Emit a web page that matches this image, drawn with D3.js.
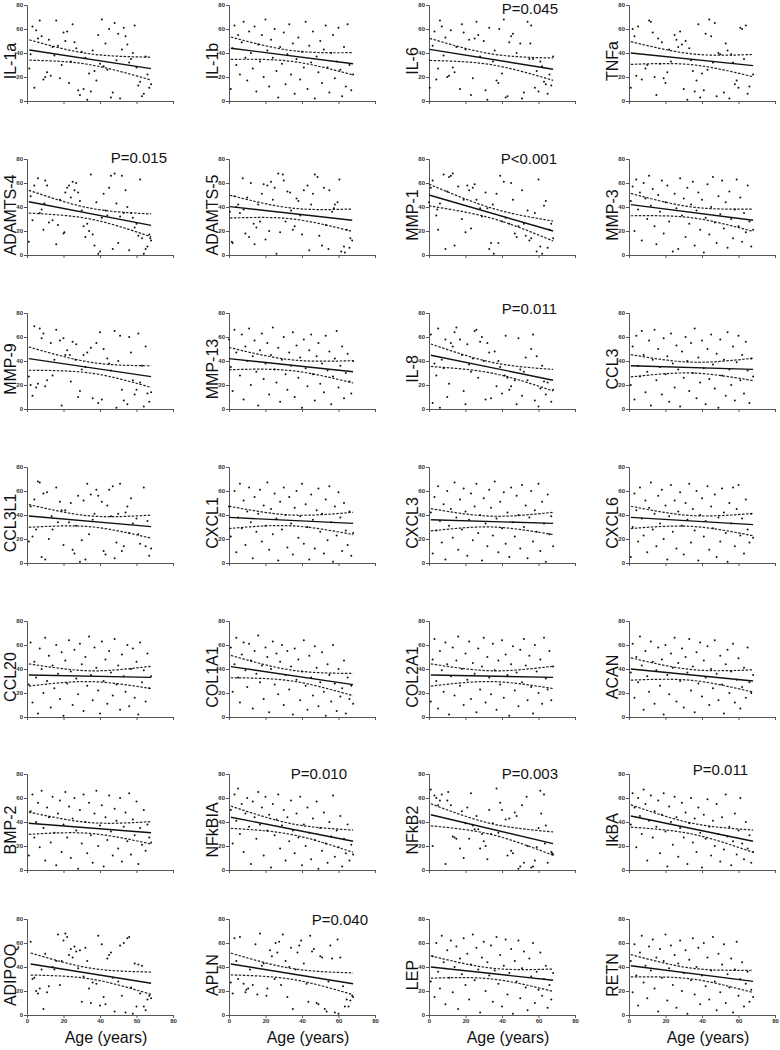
<!DOCTYPE html>
<html><head><meta charset="utf-8">
<script src="https://cdn.jsdelivr.net/npm/d3@7"></script>
<style>body{margin:0;background:#fff}</style>
</head><body><svg id="c" width="780" height="1050"></svg>
<script>
const markers = ["IL-1a","IL-1b","IL-6","TNFa","ADAMTS-4","ADAMTS-5","MMP-1","MMP-3","MMP-9","MMP-13","IL-8","CCL3","CCL3L1","CXCL1","CXCL3","CXCL6","CCL20","COL1A1","COL2A1","ACAN","BMP-2","NFkBIA","NFkB2","IkBA","ADIPOQ","APLN","LEP","RETN"];
const pLabels = [null,null,"P=0.045",null,"P=0.015",null,"P<0.001",null,null,null,"P=0.011",null,null,null,null,null,null,null,null,null,null,"P=0.010","P=0.003","P=0.011",null,"P=0.040",null,null];
const fitStart = [42.5,44,43,40,44.4,40.3,50,42,42,42,44.8,36,39.2,38,36,38,35,42,35,40,39,44,46,45,42.5,42.5,40,41];
const fitEnd   = [27,31,26.5,29.5,24.7,29,20,29,27,31,24,33,30.3,33,33,32,33,27,33,30,31,24,22,24,26.5,26,29,28];
const bandStart = [8.5,9.3,9.2,9.5,9.5,9.5,9,9.3,9.7,9.3,9.4,9.3,9.5,9.3,9.3,9.3,9.3,9.3,9.3,9.3,9.3,9.3,9.2,9.3,9.2,9.1,9.3,9.3];
const bandMid   = [4.5,4.5,4.5,4.5,4.5,4.5,4.2,4.5,4.5,4.5,4.5,4.5,4.5,4.5,4.5,4.5,4.5,4.5,4.5,4.5,4.5,4.5,4.5,4.5,4.5,4.5,4.5,4.5];
const bandEnd   = [9.5,9.3,9.3,9.3,9.5,9.3,8.3,9.3,9,9.3,9,9.3,9.6,9.3,9.3,9.3,9.3,9.3,9.3,9.3,9.3,9.3,9.7,9.3,9.3,9.1,9.3,9.3];
const xTicks = [0,20,40,60,80];
const yTicks = [0,20,40,60,80];

const pts_IL1a = [[1.3,27],[2,39],[3,62],[4,11],[5,59],[6,52],[7,67],[8,54],[9,18],[10,20],[11,24],[12,51],[13,21],[14,45],[15,38],[16,67],[17,46],[18,19],[19,30],[20,57],[21,50],[22,58],[23,15],[24,33],[25,64],[26,49],[27,44],[28,9],[29,5],[30,41],[31,10],[32,36],[33,1],[34,23],[35,8],[36,42],[37,25],[38,17],[39,55],[40,31],[41,68],[42,29],[43,48],[44,26],[45,60],[46,3],[47,7],[48,65],[49,34],[50,56],[51,2],[52,43],[53,61],[54,54],[55,47],[56,32],[57,35],[58,40],[59,63],[60,28],[61,13],[62,16],[63,4],[64,6],[65,37],[66,22],[67,11],[68,14]];
const pts_IL1b = [[1,10],[2,44],[3,63],[4,30],[5,55],[6,22],[7,49],[8,66],[9,36],[10,17],[11,58],[12,40],[13,27],[14,62],[15,8],[16,47],[17,33],[18,55],[19,20],[20,68],[21,42],[22,12],[23,51],[24,36],[25,60],[26,25],[27,3],[28,45],[29,31],[30,57],[31,14],[32,39],[33,64],[34,22],[35,48],[36,6],[37,35],[38,53],[39,18],[40,41],[41,28],[42,66],[43,10],[44,46],[45,32],[46,58],[47,2],[48,37],[49,24],[50,50],[51,15],[52,43],[53,63],[54,28],[55,7],[56,40],[57,55],[58,19],[59,33],[60,61],[61,26],[62,4],[63,45],[64,12],[65,64],[66,30],[67,9],[68,22]];
const pts_IL6 = [[0.4,11],[2,46],[3,58],[4,18],[5,27],[6,67],[7,62],[8,38],[9,53],[10,20],[11,21],[12,59],[13,28],[14,24],[15,45],[17,10],[18,64],[19,57],[20,43],[22,51],[23,5],[24,19],[25,52],[26,66],[27,55],[28,37],[30,50],[31,9],[32,1],[33,61],[35,33],[36,42],[37,17],[38,15],[38.5,60],[40,23],[41,68],[42,3],[43,4],[44,49],[45,54],[46,56],[48,40],[50,48],[51,2],[52,7],[54,66],[55,35],[55.5,48],[56,63],[57,35],[58,11],[59,25],[60,8],[61,33],[62,29],[63,16],[64,14],[65,6],[66,22],[67,13],[68,37]];
const pts_TNFa = [[1,11],[2,60],[3,54],[4,21],[5,62],[7,18],[9,27],[10,30],[11,67],[12,66],[13,57],[14,20],[15,5],[16,52],[17,31],[18,49],[19,19],[20,15],[21,24],[22,43],[23,33],[25,55],[26,51],[27,45],[28,58],[29,47],[30,10],[31,50],[32,1],[33,44],[34,34],[35,25],[36,8],[37,17],[38,64],[39,3],[40,23],[41,9],[42,56],[43,26],[44,68],[45,54],[46,32],[47,65],[48,4],[49,40],[50,39],[52,7],[53,48],[54,42],[55,2],[56,39],[57,32],[58,14],[59,17],[60,11],[61,61],[62,60],[63,35],[64,63],[65,6],[66,12],[68,22]];
const pts_ADAMTS4 = [[1,11],[2,49],[3,29],[4,58],[6,64],[7,35],[8,38],[9,21],[9.5,43],[10,62],[11,58],[12,27],[14,29],[16,9],[17,25],[18,46],[20,18],[20.5,19],[21,52],[22,56],[23,58],[24,48],[25,61],[26,54],[27,60],[28,52],[29,45],[30,37],[31,24],[32,15],[33,26],[34,20],[35,67],[36,17],[37,8],[38,44],[39,1],[40,3],[41,31],[42,51],[43,37],[44,33],[45,56],[46,66],[47,5],[48,68],[49,43],[50,10],[51,32],[52,66],[53,35],[54,54],[55,40],[56,4],[57,35],[58,31],[59,23],[60,26],[61,16],[62,63],[63,14],[64,1],[65,5],[66,7],[67,17],[67.5,14],[68,12]];
const pts_ADAMTS5 = [[0.5,36],[1.5,11],[2,10],[3,49],[4,40],[5,42],[6,35],[7.5,64],[8,38],[9,18],[10,48],[11,15],[12,60],[13.5,26],[14,9],[15,23],[16,42],[17,28],[18,51],[19,59],[20,13],[21,58],[22,20],[23,61],[24,46],[25,56],[26,1],[27,68],[28,19],[29.5,67],[30,62],[31,28],[32,53],[33.5,52],[34,37],[35,21],[36,24],[37,47],[38,45],[39,33],[40,17],[41,54],[43,58],[44,4],[45,42],[46,51],[47,67],[48.5,65],[49.5,16],[51,8],[52,56],[53,25],[54.5,5],[55,54],[56.5,36],[57.5,39],[58,42],[59.5,44],[60.5,63],[61.5,3],[63,7],[63.5,2],[64.5,21],[66,6],[66.5,14],[67.5,12]];
const pts_MMP1 = [[0,44],[1,56],[2,62],[4,33],[4.5,38],[5,21],[6,43],[8,67],[9,5],[10,53],[11,65],[12,66],[13,68],[14,8],[16,57],[18,30],[19,46],[20,19],[21,58],[22,54],[23,22],[24,56],[25,59],[26,46],[28,39],[29,32],[31,52],[32,39],[33,5],[34,10],[35,42],[35.5,1],[37,51],[38,10],[39,66],[40,28],[41,61],[42,31],[44,26],[45,60],[46,46],[47,18],[48,15],[49,24],[51,54],[52,26],[53,16],[54,37],[55,12],[56,14],[58,35],[59,3],[60,63],[61,7],[62,1],[63,41],[64,45],[65,6],[66,21],[67,26],[68,14]];
const pts_MMP3 = [[1,45],[2,57],[3,20],[4,63],[5,38],[6,52],[7,12],[8,60],[9,47],[10,30],[11,66],[12,41],[13,55],[14,24],[15,9],[16,50],[17,36],[18,62],[19,18],[20,44],[21,58],[22,28],[24,3],[25,51],[26,39],[27,5],[28,64],[29,33],[30,47],[31,15],[32,56],[33,26],[34,42],[35,61],[36,8],[37,37],[38,52],[39,21],[40,46],[41,2],[42,31],[43,59],[44,17],[45,40],[46,65],[47,27],[48,10],[49,49],[50,34],[51,62],[52,22],[53,44],[54,6],[55,53],[56,30],[57,14],[58,38],[59,63],[60,24],[61,48],[62,11],[63,35],[64,19],[65,58],[66,28],[67,7],[68,21]];
const pts_MMP9 = [[1,27],[2,20],[3,11],[4,69],[5,18],[6,21],[7,67],[8,59],[9,63],[10,19],[11,24],[13,55],[14,28],[15,41],[16,66],[18,57],[19,3],[20,59],[21,45],[22,49],[23.5,45],[24,23],[25,56],[26.5,41],[27,54],[28,10],[29,15],[30,33],[31,45],[32,35],[33,47],[35,51],[36,9],[38,55],[39,5],[40,64],[41,8],[42,50],[44,42],[45,38],[46,32],[48,65],[49,1],[50,40],[51,61],[52,16],[53,7],[55,4],[56,60],[57,47],[58,24],[59,12],[60,16],[61,63],[62,22],[63,36],[64,2],[65,52],[66,13],[67,6],[68,14]];
const pts_MMP13 = [[0,58],[1,35],[2,15],[3,66],[4,47],[6,28],[7,62],[8,8],[9,52],[10,40],[11,67],[12,20],[13,44],[14,57],[15,31],[16,3],[17,49],[18,63],[19,25],[20,38],[21,55],[22,12],[23,45],[24,68],[25,33],[26,22],[27,51],[28,6],[29,41],[30,60],[31,29],[32,16],[33,47],[34,36],[35,64],[36,10],[37,53],[38,26],[39,43],[40,1],[41,58],[42,34],[43,19],[44,49],[45,62],[46,29],[47,7],[48,44],[49,55],[50,21],[51,38],[52,14],[53,61],[54,32],[55,48],[56,4],[57,27],[58,42],[59,65],[60,18],[61,36],[62,52],[63,9],[64,30],[65,46],[66,23],[67,13],[68,40]];
const pts_IL8 = [[1,62],[2,5],[3,38],[4,28],[5,67],[6,1],[7,41],[8,34],[9,58],[10,10],[11,21],[12,55],[13,52],[14,64],[15,68],[17,58],[18,45],[19,15],[20,4],[21,54],[22,37],[23,31],[24,42],[25,65],[26,66],[27,26],[28,56],[29,60],[30,40],[31,8],[32,55],[33,47],[34,9],[36,48],[37,19],[38,40],[39,35],[40,13],[41.5,28],[42,61],[43,26],[44,16],[45,19],[47,24],[48,4],[49,59],[50,33],[51,11],[52,31],[53,43],[54,24],[56,50],[57,62],[58,7],[59,44],[60,2],[61,17],[62,36],[63,23],[64,12],[65,22],[67,6],[68,16]];
const pts_CCL3 = [[1,20],[2,52],[3,8],[4,61],[5,36],[6,27],[7,65],[8,45],[9,14],[10,31],[11,57],[12,3],[13,41],[14,66],[15,24],[16,50],[17,35],[18,12],[19,59],[20,29],[21,44],[22,6],[23,63],[24,38],[25,18],[26,53],[27,33],[28,2],[29,48],[30,26],[31,60],[32,40],[33,15],[34,55],[35,30],[36,67],[37,9],[38,43],[39,22],[40,57],[41,34],[42,4],[43,50],[44,25],[45,62],[46,37],[47,17],[48,46],[49,1],[50,58],[51,28],[52,41],[53,11],[54,64],[55,33],[56,20],[57,52],[58,7],[59,39],[60,61],[61,24],[62,45],[63,13],[64,56],[65,32],[66,5],[67,42],[68,27]];
const pts_CCL3L1 = [[1,18],[2,47],[3,22],[4,53],[5,28],[6,68],[7,67],[8,5],[9,58],[10,3],[11,59],[12,20],[13.5,39],[14,28],[16,63],[17,34],[18,51],[19,44],[20,15],[21,44],[23,34],[24,50],[25,11],[26,8],[27,31],[28,56],[29,1],[30,19],[31,52],[32,3],[33,66],[34,24],[35,57],[36,36],[37,41],[38,61],[39,56],[41,51],[42,10],[43,7],[44,48],[45,61],[46,39],[47,64],[48,4],[49,17],[50,41],[51,66],[52,10],[53,14],[54,42],[55,47],[56,25],[57,54],[58,33],[60,37],[61,24],[62,16],[64,63],[65,14],[66,35],[67,6],[68,12]];
const pts_CXCL1 = [[0,47],[1,22],[3,60],[4,9],[5,38],[6,66],[7,29],[8,52],[9,15],[10,43],[11,63],[12,34],[13,4],[14,55],[15,26],[16,41],[17,61],[18,18],[19,48],[20,31],[21,67],[22,11],[23,45],[24,24],[25,58],[26,37],[27,2],[28,51],[29,28],[30,63],[31,40],[32,13],[33,55],[34,33],[35,7],[36,46],[37,60],[38,21],[39,39],[40,66],[41,16],[42,49],[43,30],[44,3],[45,57],[46,36],[47,12],[48,44],[49,62],[50,26],[51,41],[52,8],[53,53],[54,19],[55,64],[56,34],[57,1],[58,47],[59,23],[60,59],[61,38],[62,10],[63,50],[64,27],[65,15],[66,43],[67,6],[68,25]];
const pts_CXCL3 = [[1,42],[2,8],[3,55],[4,27],[5,64],[6,35],[7,17],[8,49],[9,3],[10,60],[11,31],[12,45],[13,21],[14,67],[15,38],[16,11],[17,53],[18,28],[19,62],[20,43],[21,6],[22,36],[23,58],[24,19],[25,47],[26,66],[27,25],[28,40],[29,2],[30,54],[31,33],[32,14],[33,61],[34,46],[35,23],[36,68],[37,37],[38,9],[39,51],[40,29],[41,59],[42,16],[43,42],[44,5],[45,63],[46,34],[47,22],[48,56],[49,40],[50,12],[51,65],[52,30],[53,48],[54,4],[55,38],[56,60],[57,18],[58,44],[59,26],[60,66],[61,10],[62,51],[63,33],[64,1],[65,57],[66,24],[67,39],[68,14]];
const pts_CXCL6 = [[1,5],[2,30],[3,58],[4,44],[5,18],[6,63],[7,37],[8,23],[9,52],[10,9],[11,46],[12,67],[13,28],[14,41],[15,14],[16,56],[17,33],[18,61],[19,20],[20,48],[21,3],[22,39],[23,65],[24,26],[25,52],[26,12],[27,43],[28,59],[29,31],[30,7],[31,50],[32,36],[33,66],[34,17],[35,45],[36,27],[37,60],[38,2],[39,40],[40,54],[41,22],[42,35],[43,64],[44,11],[45,47],[46,29],[47,57],[48,5],[49,38],[50,18],[51,62],[52,42],[53,25],[54,1],[55,50],[56,33],[57,63],[58,14],[59,45],[60,65],[61,23],[62,37],[63,8],[64,53],[65,28],[66,17],[67,41],[68,21]];
const pts_CCL20 = [[1,27],[2,62],[3,12],[4,46],[5,33],[6,3],[7,57],[8,40],[9,20],[10,66],[11,30],[12,51],[13,8],[14,43],[15,24],[16,60],[17,36],[18,15],[19,54],[20,1],[21,47],[22,28],[23,64],[24,38],[25,10],[26,56],[27,32],[28,19],[29,61],[30,44],[31,5],[32,50],[33,26],[34,67],[35,35],[36,14],[37,58],[38,41],[39,22],[40,3],[41,63],[42,30],[43,48],[44,11],[45,55],[46,37],[47,18],[48,65],[49,27],[50,43],[51,6],[52,52],[53,34],[54,21],[55,60],[56,9],[57,40],[58,57],[59,16],[60,46],[61,2],[62,62],[63,29],[64,39],[65,13],[66,53],[67,24],[68,34]];
const pts_COL1A1 = [[1,58],[2,21],[3,44],[4,66],[5,33],[6,12],[7,52],[8,62],[9,39],[10,25],[11,61],[12,47],[13,7],[14,55],[15,36],[16,68],[17,29],[18,43],[19,15],[20,58],[21,50],[22,4],[23,40],[24,63],[25,27],[26,53],[27,19],[28,46],[29,60],[30,10],[31,35],[32,55],[33,23],[34,42],[35,2],[36,57],[37,31],[38,48],[39,14],[40,38],[41,64],[42,26],[43,6],[44,51],[45,33],[46,18],[47,59],[48,41],[49,9],[50,29],[51,54],[52,21],[53,1],[54,44],[55,35],[56,13],[57,60],[58,28],[59,5],[60,40],[61,17],[62,24],[63,47],[64,3],[65,33],[66,15],[67,26],[68,11]];
const pts_COL2A1 = [[1,13],[2,48],[3,65],[4,30],[5,7],[6,55],[7,39],[8,21],[9,62],[10,44],[11,2],[12,34],[13,58],[14,18],[15,47],[16,67],[17,26],[18,40],[19,10],[20,53],[21,31],[22,63],[23,15],[24,45],[25,36],[26,4],[27,57],[28,23],[29,42],[30,66],[31,12],[32,50],[33,33],[34,19],[35,61],[36,39],[37,6],[38,47],[39,27],[40,64],[41,16],[42,52],[43,35],[44,1],[45,44],[46,59],[47,22],[48,37],[49,9],[50,56],[51,29],[52,65],[53,43],[54,14],[55,51],[56,25],[57,3],[58,60],[59,38],[60,20],[61,48],[62,11],[63,66],[64,32],[65,23],[66,55],[67,14],[68,42]];
const pts_ACAN = [[1,37],[2,61],[3,16],[4,50],[5,29],[6,67],[7,43],[8,6],[9,55],[10,34],[11,21],[12,63],[13,46],[14,11],[15,39],[16,58],[17,26],[18,48],[19,2],[20,60],[21,35],[22,19],[23,53],[24,41],[25,66],[26,13],[27,45],[28,30],[29,57],[30,8],[31,50],[32,37],[33,65],[34,22],[35,42],[36,4],[37,54],[38,28],[39,62],[40,17],[41,47],[42,33],[43,59],[44,10],[45,40],[46,24],[47,64],[48,36],[49,14],[50,51],[51,27],[52,3],[53,44],[54,56],[55,20],[56,38],[57,61],[58,12],[59,31],[60,49],[61,7],[62,25],[63,41],[64,16],[65,58],[66,29],[67,20],[68,35]];
const pts_BMP2 = [[1,12],[2,49],[3,63],[4,27],[5,40],[6,56],[7,19],[8,66],[9,35],[10,8],[11,52],[12,44],[13,23],[14,61],[15,31],[16,4],[17,47],[18,58],[19,15],[20,38],[21,65],[22,27],[23,53],[24,10],[25,43],[26,60],[27,33],[28,1],[29,50],[30,22],[31,63],[32,40],[33,14],[34,56],[35,29],[36,6],[37,47],[38,66],[39,20],[40,37],[41,54],[42,3],[43,44],[44,25],[45,62],[46,32],[47,12],[48,51],[49,41],[50,18],[51,60],[52,7],[53,36],[54,48],[55,24],[56,64],[57,13],[58,42],[59,29],[60,57],[61,5],[62,35],[63,21],[64,50],[65,16],[66,38],[67,27],[68,23]];
const pts_NFkBIA = [[1,50],[2,22],[3,63],[4,41],[5,68],[6,30],[7,55],[8,15],[9,47],[10,60],[11,36],[12,5],[13,57],[14,44],[15,26],[16,65],[17,38],[18,52],[19,12],[20,61],[21,33],[22,46],[23,2],[24,55],[25,29],[26,42],[27,63],[28,18],[29,37],[30,50],[31,8],[32,44],[33,24],[34,58],[35,33],[36,14],[37,47],[38,27],[39,61],[40,4],[41,38],[42,20],[43,52],[44,31],[45,9],[46,43],[47,25],[48,57],[49,1],[50,35],[51,16],[52,48],[53,22],[54,6],[55,40],[56,28],[57,62],[58,11],[59,33],[60,19],[61,45],[62,3],[63,26],[64,14],[65,38],[66,8],[67,21],[68,13]];
const pts_NFkB2 = [[1,67],[2,20],[3,62],[4,60],[5,54],[6,58],[7,63],[9,5],[10,58],[10.5,65],[12,54],[13,28],[14,27],[15,26],[17,18],[18,49],[19,10],[20,39],[21,52],[22,26],[23,64],[24,37],[25,34],[26,45],[27,34],[28,18],[29,30],[30,24],[31,20],[32,9],[33,50],[34,30],[35,39],[37,68],[38,31],[39,56],[40,50],[42,42],[43,12],[44,43],[45,16],[46,14],[47,48],[48,45],[49,1],[50,3],[51,54],[52,6],[53.5,61],[54,20],[56,2],[57,3],[58,8],[59,19],[60,35],[61,66],[61.5,47],[63,63],[63.5,22],[64,37],[65,6],[67,15],[67.5,14],[68,13]];
const pts_IkBA = [[1,38],[2,64],[3,52],[4,19],[5,60],[6,45],[7,30],[8,67],[9,55],[10,8],[11,41],[12,62],[13,27],[14,49],[15,36],[16,58],[17,14],[18,46],[19,64],[20,32],[21,3],[22,53],[23,40],[24,21],[25,61],[26,44],[27,11],[28,35],[29,56],[30,27],[31,48],[32,5],[33,39],[34,60],[35,23],[36,43],[37,15],[38,52],[39,31],[40,2],[41,46],[42,26],[43,59],[44,36],[45,12],[46,41],[47,20],[48,55],[49,30],[50,7],[51,44],[52,17],[53,63],[54,28],[55,36],[56,4],[57,24],[58,47],[59,13],[60,33],[61,60],[62,22],[63,9],[64,40],[65,18],[66,29],[67,6],[68,15]];
const pts_ADIPOQ = [[2,61],[3,30],[4,31],[5,20],[6,18],[7,22],[8,38],[9,5],[10,51],[11,19],[12,24],[14,40],[15,38],[16,45],[17,67],[18,25],[19,45],[20,62],[21,68],[22,65],[23,50],[24,55],[25,48],[26,57],[27,53],[28,39],[29,54],[30,11],[31,32],[32,56],[33,45],[34,22],[35,10],[36,27],[38,26],[39,66],[40,8],[41,59],[42,15],[43,9],[44,47],[45,50],[46,52],[47,31],[48,3],[50,28],[51,58],[52,16],[53,60],[54,2],[55,64],[56,65],[57,23],[58,1],[59,43],[60,7],[61,42],[62,18],[63,41],[64,7],[65,4],[66,13],[67,16],[68,14]];
const pts_APLN = [[1,27],[2,18],[3,64],[4,45],[5,30],[6,65],[8,26],[9,19],[9.5,21],[10.5,22],[11.5,38],[13,25],[14.5,59],[15.5,17],[17,68],[18,41],[19,43],[20.5,16],[21,22],[22.5,54],[23.5,49],[25,30],[25.5,60],[26.5,52],[27.5,61],[28.5,25],[29.5,67],[31,45],[32,15],[33,40],[34,56],[35,5],[36.5,38],[37.5,52],[38.5,58],[39.5,62],[41,43],[42.5,26],[43.5,11],[44.5,66],[45.5,53],[46.5,55],[48,10],[49,9],[50,49],[51,48],[52.5,5],[53.5,3],[54.5,28],[55.5,58],[56.5,47],[58,2],[59.5,63],[60,1],[61,48],[62.5,24],[63.5,7],[64.5,13],[65.5,7],[66.5,12],[67.5,16],[68,15]];
const pts_LEP = [[1,28],[2,49],[3,15],[4,60],[5,36],[6,22],[7,66],[8,44],[9,9],[10,54],[11,31],[12,62],[13,19],[14,40],[15,57],[16,5],[17,47],[18,34],[19,64],[20,25],[21,51],[22,13],[23,42],[24,67],[25,29],[26,56],[27,38],[28,2],[29,48],[30,61],[31,20],[32,44],[33,33],[34,58],[35,11],[36,37],[37,65],[38,26],[39,50],[40,7],[41,41],[42,63],[43,17],[44,35],[45,55],[46,1],[47,45],[48,28],[49,62],[50,14],[51,39],[52,53],[53,23],[54,4],[55,47],[56,32],[57,60],[58,10],[59,36],[60,21],[61,52],[62,16],[63,30],[64,41],[65,6],[66,25],[67,13],[68,35]];
const pts_RETN = [[1,45],[2,19],[3,59],[4,33],[5,8],[6,52],[7,66],[8,27],[9,41],[10,14],[11,57],[12,37],[13,63],[14,22],[15,48],[16,3],[17,55],[18,31],[19,45],[20,67],[21,12],[22,39],[23,58],[24,25],[25,50],[26,6],[27,43],[28,62],[29,20],[30,35],[31,54],[32,1],[33,46],[34,29],[35,64],[36,17],[37,40],[38,56],[39,9],[40,33],[41,60],[42,24],[43,48],[44,13],[45,37],[46,65],[47,28],[48,4],[49,51],[50,19],[51,42],[52,59],[53,10],[54,34],[55,23],[56,47],[57,2],[58,38],[59,61],[60,16],[61,30],[62,44],[63,7],[64,26],[65,36],[66,11],[67,21],[68,15]];

const points = [pts_IL1a,pts_IL1b,pts_IL6,pts_TNFa,pts_ADAMTS4,pts_ADAMTS5,pts_MMP1,pts_MMP3,pts_MMP9,pts_MMP13,pts_IL8,pts_CCL3,pts_CCL3L1,pts_CXCL1,pts_CXCL3,pts_CXCL6,pts_CCL20,pts_COL1A1,pts_COL2A1,pts_ACAN,pts_BMP2,pts_NFkBIA,pts_NFkB2,pts_IkBA,pts_ADIPOQ,pts_APLN,pts_LEP,pts_RETN];

// layout
const colX = [27,229,429,629];
const rowTop = [5,159,313,467,621,774,919];
const pw = 146, ph = 96;
// P label placement (right edge offset from panel's left, baseline offset from panel top), by panel index
const pPos = {2:[129,9],4:[140,4],6:[128,5],10:[128,1],21:[118,5],22:[129,5],23:[119,1],25:[139,6]};
const svg = d3.select("#c");
const font = "'Liberation Sans', Arial, sans-serif";

markers.forEach((name,i)=>{
  const col = i%4, row = Math.floor(i/4);
  const g = svg.append("g").attr("transform",`translate(${colX[col]},${rowTop[row]})`);
  const x = d3.scaleLinear().domain([0,80]).range([0,pw]);
  const y = d3.scaleLinear().domain([0,80]).range([ph,0]);
  const isBottom = row===6;

  const ya = g.append("g").call(d3.axisLeft(y).tickValues(yTicks).tickSize(3).tickPadding(1));
  const xa = g.append("g").attr("transform",`translate(0,${ph})`)
    .call(d3.axisBottom(x).tickValues(xTicks).tickSize(3).tickPadding(1).tickFormat(isBottom?d3.format("d"):()=>""));
  [ya,xa].forEach(a=>{
    a.select(".domain").attr("stroke","#555").attr("stroke-width",1);
    a.selectAll(".tick line").attr("stroke","#555");
    a.selectAll(".tick text").attr("font-family",font).attr("font-size",6).attr("font-weight","bold").attr("fill","#333");
  });

  const data = points[i];
  const ext = data.length ? d3.extent(data,d=>d[0]) : [0,68];
  const x0 = ext[0], x1 = ext[1], L = x1-x0;
  const fit = t => fitStart[i] + (fitEnd[i]-fitStart[i])*(t-x0)/L;
  const h0 = bandStart[i], hc = bandMid[i], h1 = bandEnd[i];
  const r = Math.sqrt((h0*h0-hc*hc)/(h1*h1-hc*hc));
  const m = r*L/(1+r);
  const b = (h0*h0-hc*hc)/(m*m);
  const hw = t => Math.sqrt(hc*hc + b*(t-x0-m)*(t-x0-m));
  const ts = d3.range(0,41).map(k=>x0+L*k/40);
  const line = d3.line().x(d=>x(d[0])).y(d=>y(d[1]));

  g.append("path").attr("d",line(ts.map(t=>[t,fit(t)+hw(t)]))).attr("fill","none").attr("stroke","#222").attr("stroke-width",1.2).attr("stroke-dasharray","2.5,1.5");
  g.append("path").attr("d",line(ts.map(t=>[t,fit(t)-hw(t)]))).attr("fill","none").attr("stroke","#222").attr("stroke-width",1.2).attr("stroke-dasharray","2.5,1.5");
  g.append("path").attr("d",line([[x0,fit(x0)],[x1,fit(x1)]])).attr("fill","none").attr("stroke","#111").attr("stroke-width",1.4);

  g.selectAll("circle").data(data).join("circle")
    .attr("cx",d=>x(d[0])).attr("cy",d=>y(d[1])).attr("r",1).attr("fill","#111");

  svg.append("text").attr("transform",`translate(${colX[col]-11.5},${rowTop[row]+56}) rotate(-90)`)
    .attr("text-anchor","middle").attr("font-family",font).attr("font-size",16).attr("fill","#111").text(name);

  if(pLabels[i]){
    const pp = pPos[i] || [128,5];
    svg.append("text").attr("x",colX[col]+pp[0]).attr("y",rowTop[row]+pp[1])
      .attr("text-anchor","end").attr("font-family",font).attr("font-size",15).attr("fill","#111").text(pLabels[i]);
  }
  if(isBottom){
    svg.append("text").attr("x",colX[col]+79).attr("y",1043).attr("text-anchor","middle")
      .attr("font-family",font).attr("font-size",16).attr("fill","#111").text("Age (years)");
  }
});
</script></body></html>
